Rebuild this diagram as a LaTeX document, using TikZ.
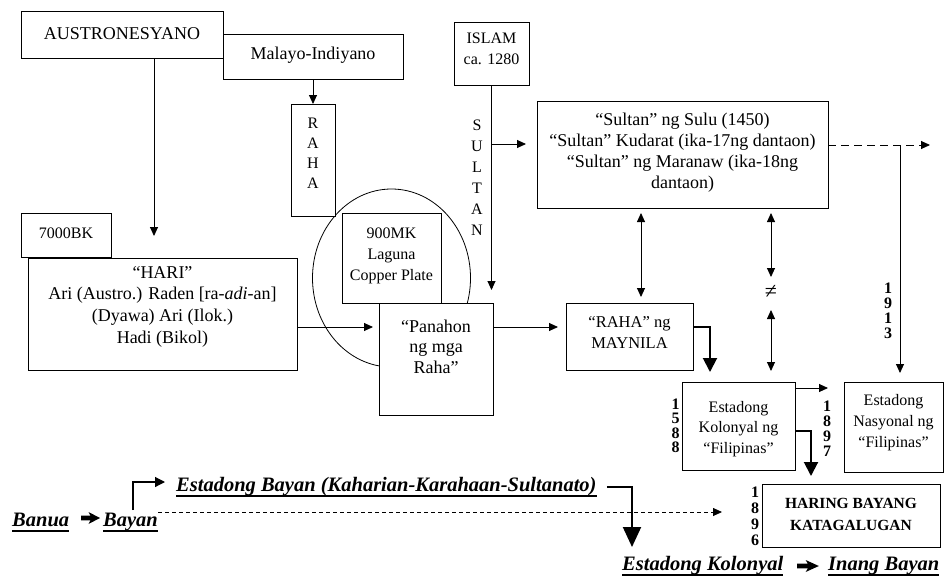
\documentclass[tikz,border=0pt]{standalone}
\usepackage{fontspec}
\setmainfont{Liberation Serif}
\usetikzlibrary{arrows.meta,shapes.geometric,calc}
\newcommand{\ulw}[1]{\setbox0=\hbox{#1}\rlap{\rule[-5.5pt]{\wd0}{1.8pt}}\box0}
\begin{document}
\begin{tikzpicture}[x=1pt,y=-1pt,
  frame/.style={draw, line width=0.9pt, fill=white, inner sep=0pt, outer sep=0pt, anchor=north west},
  txt/.style={inner sep=0pt, align=center, font=\fontsize{18}{21.5}\selectfont},
  txts/.style={inner sep=0pt, align=center, font=\fontsize{16}{21}\selectfont},
  yr/.style={inner sep=0pt, align=center, font=\bfseries\fontsize{16}{15}\selectfont},
  bot/.style={inner sep=0pt, anchor=base west, font=\bfseries\itshape\fontsize{20.5}{24}\selectfont},
  heavyarrow/.pic={\fill (0,-2.3) -- (9.5,-2.3) -- (7.5,-6) -- (19,0) -- (7.5,6) -- (9.5,2.3) -- (0,2.3) -- cycle;},
  con/.style={line width=0.9pt},
  arr/.style={con, -{Triangle[length=9pt,width=8pt]}},
  darr/.style={con, {Triangle[length=9pt,width=8pt]}-{Triangle[length=9pt,width=8pt]}},
  dasharr/.style={con, dash pattern=on 8pt off 5pt, -{Triangle[length=9pt,width=8pt]}},
  fdasharr/.style={line width=0.8pt, dash pattern=on 4pt off 3pt, -{Triangle[length=9pt,width=8pt]}},
  thickarr/.style={line width=2pt, -{Triangle[length=14pt,width=14pt]}},
  midarr/.style={line width=1.2pt, -{Triangle[length=10pt,width=10pt]}},
  bigarr/.style={line width=2pt, -{Triangle[length=20pt,width=18pt]}},
]
\useasboundingbox (0,0) rectangle (946,584);

% ellipse behind boxes
\node[draw, ellipse, line width=0.8pt, minimum width=158pt, minimum height=178pt, inner sep=0pt] (circ) at (391.5,278) {};

% boxes
\node[frame, minimum width=202pt, minimum height=47pt] (austro) at (21,11) {};
\node[frame, minimum width=180pt, minimum height=45pt] (malayo) at (223,34) {};
\node[frame, minimum width=44pt, minimum height=112pt] (raha) at (291,104) {};
\node[frame, minimum width=75pt, minimum height=63pt] (islam) at (454,22) {};
\node[frame, minimum width=291pt, minimum height=107pt] (sultan) at (537,101) {};
\node[frame, minimum width=90pt, minimum height=44pt] (k7000) at (21,213) {};
\node[frame, minimum width=269pt, minimum height=112pt] (hari) at (28,258) {};
\node[frame, minimum width=99pt, minimum height=90pt] (laguna) at (342,213) {};
\node[frame, minimum width=114pt, minimum height=112pt] (panahon) at (379,303) {};
\node[frame, minimum width=127pt, minimum height=67pt] (maynila) at (566,303) {};
\node[frame, minimum width=113pt, minimum height=88pt] (kolonyal) at (682,382) {};
\node[frame, minimum width=99pt, minimum height=90pt] (nasyonal) at (844,382) {};
\node[frame, minimum width=178pt, minimum height=63pt] (haring) at (762,484) {};

% box texts
\node[txt] (austroT) at (122,34) {AUSTRONESYANO};
\node[txt] (malayoT) at (313,55) {Malayo-Indiyano};
\node[txts, font=\fontsize{16}{20}\selectfont] (rahaT) at (313,153) {R\\A\\H\\A};
\node[txts] (islamT) at (491.5,48.5) {ISLAM\\ca. 1280};
\node[txt, font=\fontsize{18}{21}\selectfont] (sultanT) at (682.5,153) {“Sultan” ng Sulu (1450)\\“Sultan” Kudarat (ika-17ng dantaon)\\“Sultan” ng Maranaw (ika-18ng\\dantaon)};
\node[txts, font=\fontsize{16}{21}\selectfont] (sultanV) at (477,177.5) {S\\U\\L\\T\\A\\N};
\node[txts] (k7000T) at (66,233) {7000BK};
\node[txt, font=\fontsize{18}{21.7}\selectfont] (hariT) at (162.5,306.5) {“HARI”\\Ari (Austro.) Raden [ra-\textit{adi}-an]\\(Dyawa) Ari (Ilok.)\\Hadi (Bikol)};
\node[txts] (lagunaT) at (391.5,255.5) {900MK\\Laguna\\Copper Plate};
\node[txt, font=\fontsize{18}{20.5}\selectfont] (panahonT) at (436,346.5) {“Panahon\\ng mga\\Raha”};
\node[txts, font=\fontsize{16.5}{21}\selectfont] (maynilaT) at (629.5,333) {“RAHA” ng\\MAYNILA};
\node[txts, font=\fontsize{16}{20.5}\selectfont] (kolonyalT) at (738.5,429) {Estadong\\Kolonyal ng\\“Filipinas”};
\node[txts, font=\fontsize{16}{21}\selectfont] (nasyonalT) at (893.5,422.5) {Estadong\\Nasyonal ng\\“Filipinas”};
\node[inner sep=0pt, align=center, font=\bfseries\fontsize{15.5}{22}\selectfont] (haringT) at (851,514) {HARING BAYANG\\KATAGALUGAN};
\node[txt, font=\fontsize{22}{24}\selectfont] (neq) at (771,292) {≠};

% years
\node[yr] (y1913) at (888,310.5) {1\\9\\1\\3};
\node[yr, font=\bfseries\fontsize{16}{14.5}\selectfont] (y1588) at (675.5,426) {1\\5\\8\\8};
\node[yr] (y1897) at (827,429) {1\\8\\9\\7};
\node[yr, font=\bfseries\fontsize{16}{16}\selectfont] (y1896) at (755,516.5) {1\\8\\9\\6};

% bottom texts
\node[bot] (banua) at (12,526) {\ulw{Banua}};
\pic at (81,518) {heavyarrow};
\node[bot] (bayan) at (103,526) {\ulw{Bayan}};
\node[bot] (estbayan) at (176,491) {\ulw{Estadong Bayan (Kaharian-Karahaan-Sultanato)}};
\node[bot] (estkol) at (622,570) {\ulw{Estadong Kolonyal}};
\pic[xscale=1.15] at (797,566) {heavyarrow};
\node[bot] (inang) at (828,570) {\ulw{Inang Bayan}};

% connectors
\draw[arr] ($(austro.south)+(32,0)$) -- ($(hari.north)+(-8.5,-22)$);
\draw[arr] (malayo.south) -- (raha.north);
\draw[arr] (islam.south) -- ($(panahon.north east)+(-1.5,-13)$);
\draw[arr] ($(islam.south)+(0,59)$) -- ($(sultan.west)+(-11,-10.5)$);
\draw[arr] ($(hari.east)+(0,13)$) -- ($(panahon.west)+(-6,-32)$);
\draw[arr] ($(panahon.east)+(0,-32)$) -- ($(maynila.west)+(-8,-9.5)$);
\draw[darr] ($(sultan.south)+(-41.5,5)$) -- ($(maynila.north)+(11.5,-6)$);
\draw[darr] ($(sultan.south)+(88.5,5)$) -- ($(neq)+(0,-15)$);
\draw[darr] ($(neq)+(0,18)$) -- ($(kolonyal.north)+(32.5,-11)$);
\draw[thickarr] ($(maynila.east)+(0,-9.5)$) -| ($(kolonyal.north west)+(28,-10)$);
\coordinate (dashend) at (930,145);
\draw[dasharr] ($(sultan.north east)+(0,44)$) -- (dashend);
\coordinate (v1913) at (900,145);
\draw[arr] (v1913) -- ($(nasyonal.north)+(6.5,-9)$);
\draw[arr] ($(kolonyal.north east)+(0,6)$) -- ($(nasyonal.north west)+(-16,6)$);
\draw[thickarr] ($(kolonyal.east)+(0,5)$) -| ($(haring.north west)+(49,-8)$);

% bottom connectors
\draw[fdasharr] ($(bayan.base east)+(0,-14)$) -- ($(haring.west)+(-40,-3.5)$);
\draw[midarr] ($(bayan.base west)+(30,-16)$) |- ($(estbayan.base west)+(-11,-9)$);
\draw[bigarr] ($(estbayan.base east)+(10,-4)$) -| ($(haring.south west)+(-130,0)$);
\end{tikzpicture}
\end{document}
